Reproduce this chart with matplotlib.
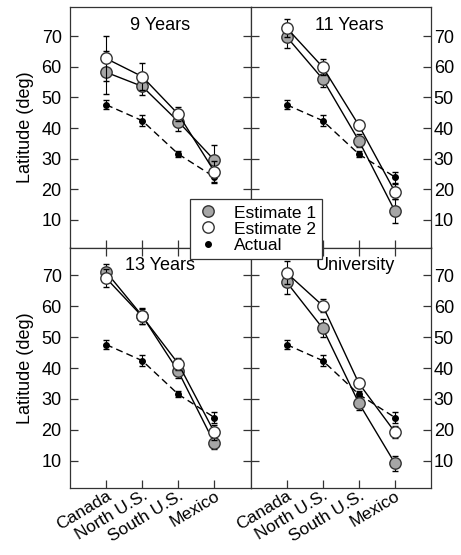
import matplotlib
matplotlib.use('Agg')
from matplotlib import pyplot as plt
from matplotlib.lines import Line2D

plt.rcParams['font.family'] = ['Liberation Sans', 'DejaVu Sans']

regions = ['Canada', 'North U.S.', 'South U.S.', 'Mexico']
panels = ['9 Years', '11 Years', '13 Years', 'University']

actual = [47.6, 42.4, 31.5, 24.0]
actual_err = [1.5, 1.7, 1.0, 1.8]

estimate1 = {
    '9 Years': [58.2, 53.6, 42.1, 29.5],
    '11 Years': [69.8, 56.0, 35.9, 12.9],
    '13 Years': [71.1, 56.9, 38.9, 15.7],
    'University': [67.8, 52.9, 28.7, 9.2],
}
estimate1_err = {
    '9 Years': [7.1, 2.9, 3.0, 5.1],
    '11 Years': [3.6, 2.7, 2.0, 4.0],
    '13 Years': [2.7, 2.5, 2.0, 2.0],
    'University': [3.8, 3.0, 2.4, 2.4],
}
estimate2 = {
    '9 Years': [62.7, 56.8, 44.5, 25.8],
    '11 Years': [72.7, 59.9, 40.9, 19.2],
    '13 Years': [69.1, 56.7, 41.4, 19.2],
    'University': [70.8, 60.2, 35.1, 19.3],
}
estimate2_err = {
    '9 Years': [7.3, 4.5, 2.2, 3.5],
    '11 Years': [3.0, 2.6, 1.5, 2.5],
    '13 Years': [3.0, 2.5, 2.0, 2.5],
    'University': [3.7, 2.0, 1.0, 2.0],
}

fig, axes = plt.subplots(2, 2, figsize=(4.61, 5.55), dpi=100)
fig.subplots_adjust(left=70 / 461, right=431 / 461, top=1 - 7 / 555,
                    bottom=1 - 488 / 555, wspace=0, hspace=0)

x = [1, 2, 3, 4]
title_x = {'9 Years': 0.5, '11 Years': 0.547, '13 Years': 0.5, 'University': 0.58}

for ax, name in zip(axes.flat, panels):
    ax.errorbar(x, actual, yerr=actual_err, fmt='o', color='black', ls=(0, (5, 3)),
                lw=1, ms=4, capsize=2.5, elinewidth=0.8, zorder=2)
    ax.errorbar(x, estimate1[name], yerr=estimate1_err[name], fmt='-o', color='black',
                mfc='#a6a6a6', mec='#333333', lw=1, ms=8.2, capsize=2.5,
                elinewidth=0.8, zorder=3)
    ax.errorbar(x, estimate2[name], yerr=estimate2_err[name], fmt='-o', color='black',
                mfc='white', mec='#333333', lw=1, ms=8.2, capsize=2.5,
                elinewidth=0.8, zorder=4)
    ax.text(title_x[name], 0.96, name, transform=ax.transAxes, ha='center',
            va='top', fontsize=13)
    ax.set_xlim(0, 5)
    ax.set_xticks(x)
    ax.set_ylim(1, 79.5)
    ax.set_yticks([10, 20, 30, 40, 50, 60, 70])
    ax.tick_params(axis='both', direction='in', length=5.5, width=0.9,
                   color='#333333', top=True, right=True)
    for sp in ax.spines.values():
        sp.set_linewidth(0.9)
        sp.set_color('#333333')

for ax in axes[0]:
    ax.tick_params(axis='x', top=False, labelbottom=False)
for ax in axes[1]:
    ax.set_ylim(1.2, 79)
    ax.tick_params(axis='x', top=True, pad=0)
    ax.set_xticklabels(regions, rotation=31, ha='right', rotation_mode='anchor',
                       fontsize=12.5)

for ax in axes[:, 0]:
    ax.tick_params(axis='y', labelsize=13, pad=6)
    ax.set_ylabel('Latitude (deg)', fontsize=13, labelpad=5)
for ax in axes[:, 1]:
    ax.tick_params(axis='y', labelleft=False, labelright=True, labelsize=13, pad=2)

handles = [
    Line2D([], [], ls='none', marker='o', ms=8.2, mfc='#a6a6a6', mec='#333333'),
    Line2D([], [], ls='none', marker='o', ms=8.2, mfc='white', mec='#333333'),
    Line2D([], [], ls='none', marker='o', ms=4, mfc='black', mec='black'),
]
leg = fig.legend(handles, ['Estimate 1', 'Estimate 2', 'Actual'], loc='center',
                 bbox_to_anchor=(256 / 461, 1 - 229 / 555), fontsize=12.5,
                 frameon=True, fancybox=False, framealpha=1, edgecolor='#333333',
                 handletextpad=0.8, labelspacing=0.05, borderpad=0.35,
                 handlelength=1.4, borderaxespad=0)
leg.get_frame().set_linewidth(0.9)

fig.savefig('out.png', dpi=100)
